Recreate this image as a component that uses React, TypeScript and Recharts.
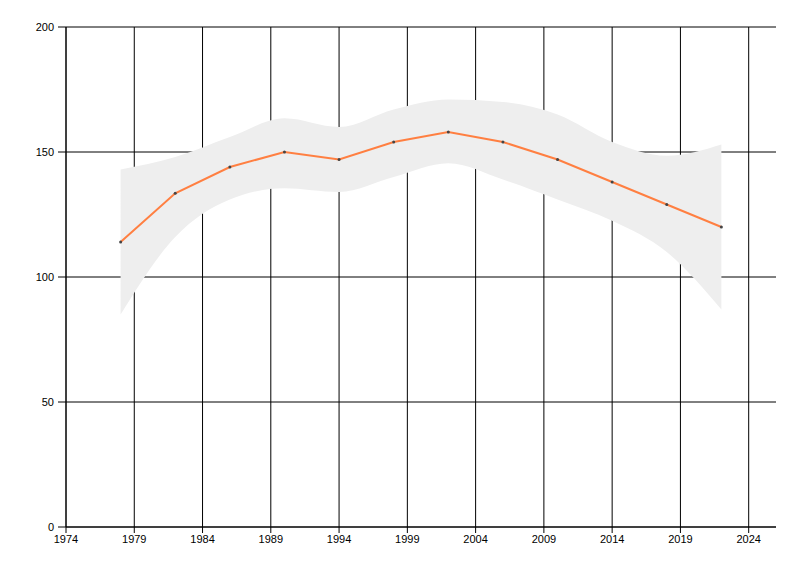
import React from 'react';
import { ComposedChart, Area, Line, XAxis, YAxis, CartesianGrid } from 'recharts';

const years = [1978, 1982, 1986, 1990, 1994, 1998, 2002, 2006, 2010, 2014, 2018, 2022];
const values = [114, 133.5, 144, 150, 147, 154, 158, 154, 147, 138, 129, 120];
const lower = [85, 116, 131, 135.5, 134, 140, 145.5, 139, 131, 122.5, 110, 87];
const upper = [143, 148, 156, 163.5, 160, 167, 171, 170, 165, 154, 148.5, 153];
const xTicks = [1974, 1979, 1984, 1989, 1994, 1999, 2004, 2009, 2014, 2019, 2024];
const yTicks = [0, 50, 100, 150, 200];

const data = years.map((year, i) => ({
  year,
  value: values[i],
  band: [lower[i], upper[i]],
}));

const tickStyle = { fill: '#000', fontSize: 11, fontFamily: 'Liberation Sans, Arial, sans-serif' };

export default function App(): JSX.Element {
  return (
    <ComposedChart width={784} height={560} data={data} margin={{ top: 19, right: 16, left: 0, bottom: 0 }}>
      <CartesianGrid stroke="#000" strokeWidth={1} horizontalValues={yTicks} verticalValues={xTicks} />
      <XAxis
        dataKey="year"
        type="number"
        domain={[1974, 2026]}
        ticks={xTicks}
        height={41}
        tickSize={6}
        tickMargin={2}
        stroke="#000"
        tick={tickStyle}
        tickLine={{ stroke: '#000' }}
      />
      <YAxis
        type="number"
        domain={[0, 200]}
        ticks={yTicks}
        width={58}
        tickSize={8}
        tickMargin={4}
        stroke="#000"
        tick={tickStyle}
        tickLine={{ stroke: '#000' }}
      />
      <Area
        dataKey="band"
        type="monotone"
        fill="#eeeeee"
        fillOpacity={1}
        stroke="none"
        isAnimationActive={false}
        activeDot={false}
      />
      <Line
        dataKey="value"
        type="linear"
        stroke="#ff7f41"
        strokeWidth={2}
        dot={{ r: 1.5, fill: '#444', stroke: 'none' }}
        activeDot={false}
        isAnimationActive={false}
      />
    </ComposedChart>
  );
}
